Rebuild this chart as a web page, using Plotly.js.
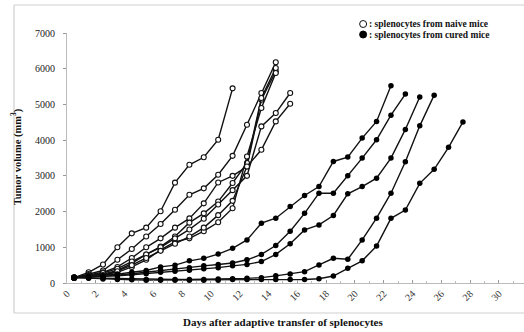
<!DOCTYPE html>
<html><head><meta charset="utf-8">
<script src="https://cdn.plot.ly/plotly-3.0.1.min.js"></script>
<style>html,body{margin:0;padding:0;background:#fff}#c{width:524px;height:332px}</style>
</head><body><div id="c"></div>
<script>
// measurement days (every day starting at day 0.5)
const days = [0.5,1.5,2.5,3.5,4.5,5.5,6.5,7.5,8.5,9.5,10.5,11.5,12.5,13.5,14.5,15.5,16.5,17.5,18.5,19.5,20.5,21.5,22.5,23.5,24.5,25.5,26.5,27.5];

// splenocytes from naive mice (open circles)
const naiveA = [150,300,520,1000,1390,1550,2010,2810,3310,3520,4010,5450];
const naiveB = [150,250,350,650,950,1300,1650,2050,2470,2650,3030,3560,4430,5320,6180];
const naiveC = [150,220,300,450,700,1000,1250,1550,1810,2230,2815,3000,3260,5130,5930];
const naiveD = [150,200,250,350,550,800,1020,1300,1690,1950,2280,2800,3360,5180,6020];
const naiveE = [150,180,230,300,450,650,925,1150,1250,1450,1700,2094,3544,4900,5880];
const naiveF = [150,200,280,400,600,800,1000,1250,1500,1800,2200,2600,3000,4385,4759,5320];
const naiveG = [150,170,220,330,500,700,900,1100,1300,1550,1900,2300,3260,3731,4525,5020];

// splenocytes from cured mice (filled circles)
const curedA = [150,180,200,250,300,350,450,500,620,690,810,972,1206,1674,1814,2141,2450,2702,3403,3525,4058,4525,5526];
const curedB = [150,170,190,220,260,300,350,400,430,480,520,560,650,800,1050,1450,1950,2515,2515,3000,3497,4011,4700,5290];
const curedC = [150,160,180,200,230,260,300,330,360,400,430,480,520,600,800,1100,1487,1627,1890,2496,2700,2936,3497,4300,5210];
const curedD = [150,140,130,120,110,100,100,100,100,100,110,120,130,150,200,250,318,505,692,664,1206,1814,2515,3397,4400,5260];
const curedE = [150,130,110,100,90,80,80,80,80,80,80,100,100,100,100,100,100,120,196,411,620,1036,1811,2044,2791,3183,3799,4510];

const legendNaive = ': splenocytes from naive mice';
const legendCured = ': splenocytes from cured mice';
const xTitle = 'Days after adaptive transfer of splenocytes';
const yTitle = 'Tumor volume (mm<sup>3</sup>)';

const naive = [naiveA,naiveB,naiveC,naiveD,naiveE,naiveF,naiveG];
const cured = [curedA,curedB,curedC,curedD,curedE];

const traces = [];
naive.forEach(v => traces.push({
  x: days.slice(0, v.length), y: v, type: 'scatter', mode: 'lines+markers',
  line: {color: '#111', width: 1.4},
  marker: {symbol: 'circle', size: 5, color: '#fff', line: {color: '#111', width: 1.1}},
  showlegend: false, hoverinfo: 'skip'
}));
cured.forEach(v => traces.push({
  x: days.slice(0, v.length), y: v, type: 'scatter', mode: 'lines+markers',
  line: {color: '#111', width: 1.4},
  marker: {symbol: 'circle', size: 5.5, color: '#000'},
  showlegend: false, hoverinfo: 'skip'
}));

const serif = 'Liberation Serif, Times New Roman, serif';
const layout = {
  width: 524, height: 332,
  margin: {l: 67, r: 0, t: 33, b: 49},
  paper_bgcolor: '#fff', plot_bgcolor: '#fff',
  font: {family: serif, size: 10, color: '#000'},
  xaxis: {
    range: [0, 31.74], dtick: 2, tick0: 0, tickangle: -45,
    showgrid: false, zeroline: false, showline: true, linecolor: '#bbb', linewidth: 1,
    ticks: 'inside', ticklen: 3, tickcolor: '#999',
    minor: {dtick: 1, ticks: 'inside', ticklen: 2, tickcolor: '#bbb', showgrid: false},
    tickfont: {family: serif, size: 10, color: '#333'}
  },
  yaxis: {
    range: [0, 7000], dtick: 1000, showgrid: false, zeroline: false,
    showline: true, linecolor: '#bbb', linewidth: 1,
    ticks: 'outside', ticklen: 3, tickcolor: '#999', ticklabelstandoff: 6,
    tickfont: {family: serif, size: 10, color: '#222'}
  },
  shapes: [
    {type: 'line', xref: 'paper', yref: 'paper', x0: -0.116, x1: 1.01, y0: 1.112, y1: 1.112, line: {color: '#d0d0d0', width: 1.2}},
    {type: 'line', xref: 'paper', yref: 'paper', x0: -0.116, x1: -0.116, y0: 1.112, y1: -0.12, line: {color: '#d0d0d0', width: 1.2}},
    {type: 'line', xref: 'paper', yref: 'paper', x0: -0.116, x1: 1.01, y0: -0.12, y1: -0.12, line: {color: '#d0d0d0', width: 1.2}},
    {type: 'circle', xref: 'paper', yref: 'paper', xsizemode: 'pixel', ysizemode: 'pixel',
     xanchor: 0.648, yanchor: 1.036, x0: -3.5, x1: 3.5, y0: -3.5, y1: 3.5,
     line: {color: '#111', width: 1}, fillcolor: '#fff'},
    {type: 'circle', xref: 'paper', yref: 'paper', xsizemode: 'pixel', ysizemode: 'pixel',
     xanchor: 0.648, yanchor: 0.994, x0: -3.5, x1: 3.5, y0: -3.5, y1: 3.5,
     line: {color: '#000', width: 1}, fillcolor: '#000'}
  ],
  annotations: [
    {xref: 'paper', yref: 'paper', x: 0.656, y: 1.036, xanchor: 'left', yanchor: 'middle', showarrow: false,
     text: '<b>' + legendNaive + '</b>', font: {family: serif, size: 9.5, color: '#111'}},
    {xref: 'paper', yref: 'paper', x: 0.656, y: 0.994, xanchor: 'left', yanchor: 'middle', showarrow: false,
     text: '<b>' + legendCured + '</b>', font: {family: serif, size: 9.5, color: '#111'}},
    {xref: 'paper', yref: 'paper', x: 0.473, y: -0.156, xanchor: 'center', yanchor: 'middle', showarrow: false,
     text: '<b>' + xTitle + '</b>', font: {family: serif, size: 11, color: '#111'}},
    {xref: 'paper', yref: 'paper', x: -0.111, y: 0.504, xanchor: 'center', yanchor: 'middle', showarrow: false,
     textangle: -90, text: '<b>' + yTitle + '</b>', font: {family: serif, size: 10.5, color: '#111'}}
  ]
};
Plotly.newPlot('c', traces, layout, {staticPlot: true, displayModeBar: false});
</script>
</body></html>
